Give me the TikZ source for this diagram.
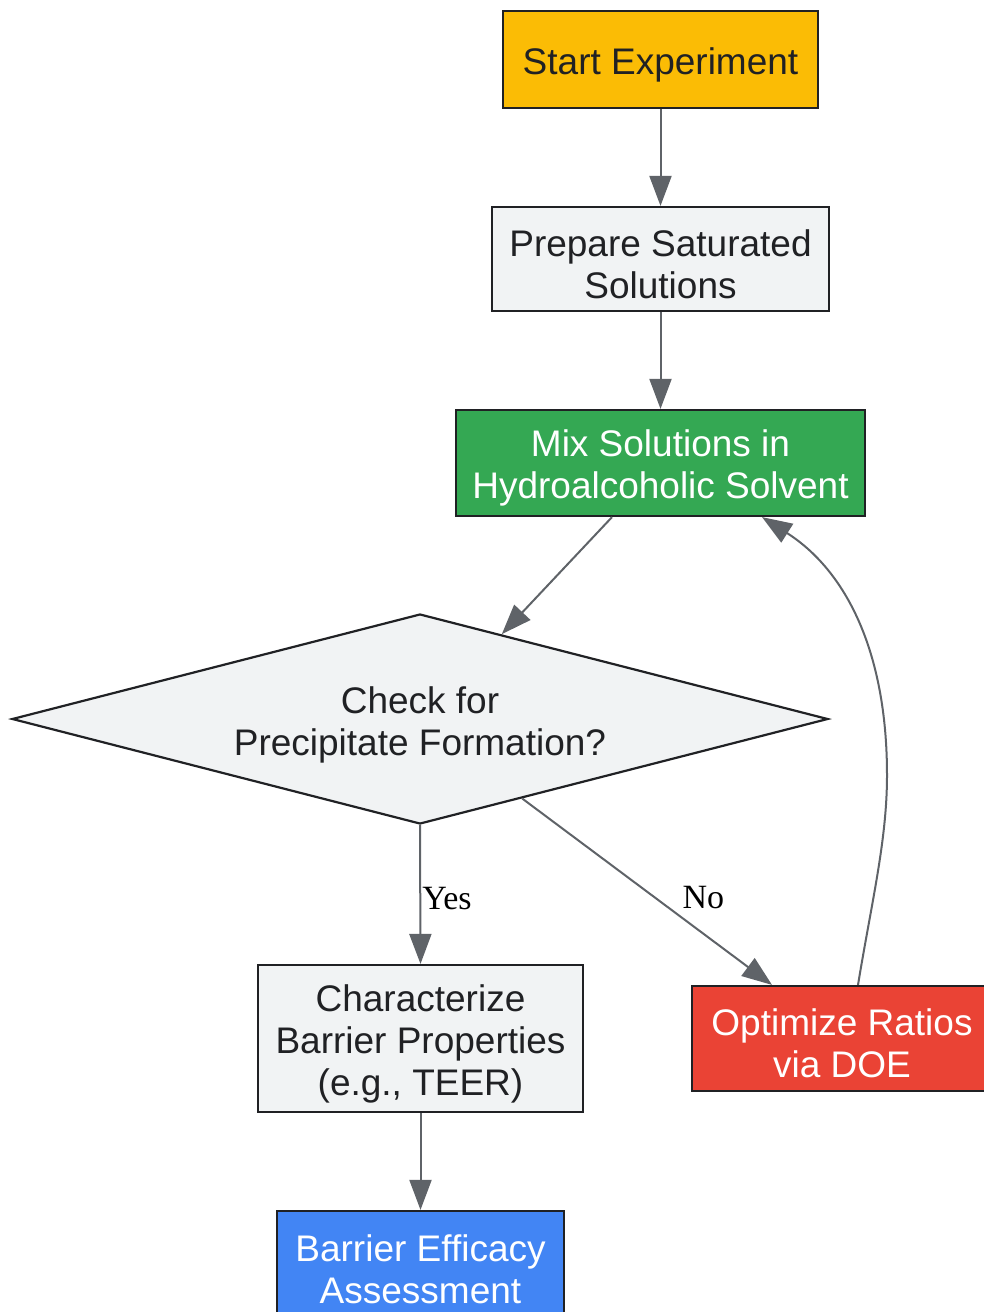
\documentclass[tikz,border=0pt]{standalone}
\usepackage{fontspec}
\setmainfont{Liberation Sans}
\newfontfamily\labelfont{Liberation Serif}
\usetikzlibrary{calc,arrows.meta,shapes.geometric}
\definecolor{startyellow}{HTML}{FBBC05}
\definecolor{stepgray}{HTML}{F1F3F4}
\definecolor{mixgreen}{HTML}{34A853}
\definecolor{optred}{HTML}{EA4335}
\definecolor{endblue}{HTML}{4285F4}
\definecolor{edgegray}{HTML}{5F6368}
\definecolor{inkdark}{HTML}{202124}
\newcommand\upstrut{\rule{0pt}{37pt}}
\tikzset{
    >={Triangle[length=30pt,width=22pt]},
    punkt/.style={
        rectangle,
        draw=inkdark, line width=2.2pt,
        fill=stepgray,
        text=inkdark,
        inner sep=0pt,
        align=center,
        font=\fontsize{37}{42}\selectfont
    },
    decision/.style={
        diamond,
        aspect=3.886,
        draw=inkdark, line width=2.2pt,
        fill=stepgray,
        text=inkdark,
        inner sep=0pt,
        align=center,
        minimum width=816pt,
        minimum height=210pt,
        font=\fontsize{37}{42}\selectfont
    },
    line/.style={draw=edgegray, line width=2pt, ->},
    edgelabel/.style={text=black, inner sep=1pt, font=\labelfont\fontsize{34}{40}\selectfont}
}
\begin{document}
\begin{tikzpicture}[x=1pt,y=-1pt]
    \useasboundingbox (0,0) rectangle (983,1312);
    % steps
    \node[punkt, fill=startyellow, minimum width=315pt, minimum height=97pt] (start) at (660.5,59.5) {\upstrut Start Experiment};
    \node[punkt, minimum width=337pt, minimum height=104pt] (prep) at (660.5,259) {\upstrut Prepare Saturated\\Solutions};
    \node[punkt, fill=mixgreen, text=white, minimum width=409pt, minimum height=106pt] (mix) at (660.5,463) {\upstrut Mix Solutions in\\Hydroalcoholic Solvent};
    \node[decision] (check) at (420,719) {\rule{0pt}{39pt}Check for\\Precipitate Formation?};
    \node[punkt, minimum width=325pt, minimum height=147pt] (char) at (420.5,1038.5) {\upstrut Characterize\\Barrier Properties\\(e.g., TEER)};
    \node[punkt, fill=optred, text=white, minimum width=300pt, minimum height=105pt] (opt) at (842,1038.5) {\upstrut Optimize Ratios\\via DOE};
    \node[punkt, fill=endblue, text=white, minimum width=287pt, minimum height=106pt] (assess) at (420.5,1264) {\upstrut Barrier Efficacy\\Assessment};
    % connectors
    \draw[line] (start) -- (prep);
    \draw[line] (prep) -- (mix);
    \draw[line] ($(mix.south)+(-48.5,0)$) -- ($(check.north)!0.2!(check.east)$);
    \draw[line] (check.south) -- node[edgelabel, right, yshift=-4pt] {Yes} (char.north);
    \draw[line] ($(check.south)!0.25!(check.east)$) -- node[edgelabel, pos=0.53, right=26pt] {No} ($(opt.north)+(-70,0)$);
    \draw[line] (char) -- (assess);
    \draw[line] ($(opt.north)+(16,0)$) .. controls (872,900) and (887,840) .. (887,775)
        .. controls (887,650) and (845,570) .. ($(mix.south)+(101.5,0)$);
\end{tikzpicture}
\end{document}
